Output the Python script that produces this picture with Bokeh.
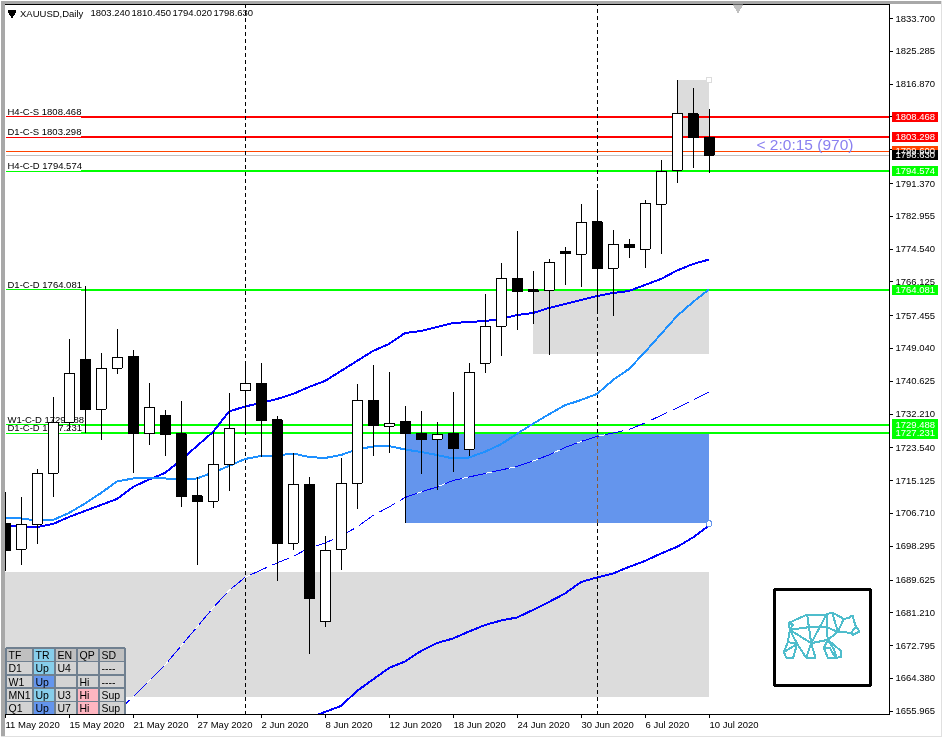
from bokeh.plotting import figure
from bokeh.embed import file_html
from bokeh.resources import INLINE
from bokeh.core.properties import value
from bokeh.models import (Range1d, FixedTicker, NumeralTickFormatter, ColumnDataSource, LinearAxis)

# ---------- data ----------
dates = ["11 May 2020", "15 May 2020", "21 May 2020", "27 May 2020", "2 Jun 2020", "8 Jun 2020",
         "12 Jun 2020", "18 Jun 2020", "24 Jun 2020", "30 Jun 2020", "6 Jul 2020", "10 Jul 2020"]
date_ticks = [0, 4, 8, 12, 16, 20, 24, 28, 32, 36, 40, 44]
price_ticks = [1833.700, 1825.285, 1816.870, 1808.455, 1800.040, 1791.370, 1782.955, 1774.540, 1766.125,
               1757.455, 1749.040, 1740.625, 1732.210, 1723.540, 1715.125, 1706.710, 1698.295,
               1689.625, 1681.210, 1672.795, 1664.380, 1655.965]

opens = [1704.18, 1697.51, 1703.92, 1717.01, 1730.10, 1746.26, 1733.43, 1743.95, 1747.11, 1727.17,
         1731.97, 1727.17, 1711.19, 1709.83, 1719.32, 1738.21, 1740.18, 1730.69, 1699.05, 1714.19,
         1678.93, 1697.51, 1714.45, 1735.74, 1729.07, 1730.43, 1727.35, 1725.74, 1727.35, 1723.15,
         1745.24, 1754.73, 1767.05, 1764.05, 1763.97, 1773.98, 1773.21, 1781.51, 1769.61, 1775.77,
         1774.49, 1786.04, 1794.76, 1809.21, 1803.24]
highs = [1712.29, 1710.85, 1718.14, 1736.59, 1751.47, 1765.07, 1747.80, 1753.96, 1748.65, 1740.10,
         1733.18, 1735.56, 1715.98, 1727.69, 1737.54, 1745.06, 1745.31, 1731.71, 1722.14, 1715.98,
         1700.92, 1720.86, 1739.93, 1744.80, 1742.93, 1734.28, 1733.00, 1730.10, 1737.87, 1745.24,
         1762.94, 1770.90, 1779.19, 1768.92, 1772.00, 1775.00, 1786.11, 1789.71, 1779.36, 1777.06,
         1787.14, 1797.40, 1817.93, 1815.88, 1810.45]
lows = [1692.02, 1693.48, 1698.87, 1711.01, 1728.12, 1727.43, 1725.56, 1742.49, 1717.17, 1724.27,
        1721.53, 1708.44, 1693.48, 1708.18, 1712.55, 1727.35, 1721.27, 1689.45, 1697.33, 1670.64,
        1677.65, 1692.20, 1707.93, 1721.45, 1722.30, 1704.18, 1716.83, 1712.73, 1717.42, 1721.45,
        1742.75, 1747.19, 1753.78, 1755.40, 1747.44, 1765.33, 1764.89, 1758.22, 1757.45, 1772.33,
        1769.77, 1773.36, 1791.58, 1795.43, 1794.02]
closes = [1697.15, 1703.92, 1717.01, 1730.10, 1742.67, 1733.33, 1743.95, 1746.78, 1727.17, 1733.95,
          1726.92, 1711.01, 1709.72, 1719.32, 1728.56, 1740.11, 1730.51, 1698.95, 1714.19, 1684.83,
          1697.25, 1714.45, 1735.74, 1729.23, 1729.84, 1727.17, 1725.63, 1727.02, 1723.33, 1742.93,
          1754.73, 1767.05, 1763.61, 1763.61, 1771.15, 1773.36, 1781.42, 1769.51, 1775.77, 1774.90,
          1786.29, 1794.50, 1809.39, 1803.13, 1798.63]

ma_fast = [1703.62, 1703.36, 1703.23, 1704.00, 1705.80, 1707.34, 1708.88, 1710.42, 1713.50, 1715.42,
           1717.09, 1720.42, 1724.02, 1727.61, 1732.87, 1734.15, 1735.05, 1736.08, 1737.36, 1739.16,
           1740.70, 1743.27, 1745.83, 1748.40, 1750.20, 1753.01, 1753.52, 1754.55, 1755.58, 1755.84,
           1756.09, 1756.61, 1757.63, 1758.15, 1759.43, 1760.45, 1761.48, 1762.51, 1763.27, 1763.79,
           1765.33, 1766.87, 1769.05, 1770.72, 1771.87]
ma_light = [1705.67, 1705.42, 1704.90, 1705.03, 1706.83, 1709.26, 1711.96, 1714.91, 1715.68, 1715.81,
            1715.68, 1715.55, 1715.68, 1717.22, 1718.89, 1720.68, 1721.45, 1721.58, 1722.10, 1721.20,
            1720.94, 1721.71, 1723.12, 1723.89, 1724.02, 1723.12, 1722.48, 1721.71, 1720.81, 1721.07,
            1722.53, 1724.46, 1727.15, 1729.72, 1732.16, 1734.47, 1735.82, 1737.36, 1740.95, 1743.77,
            1748.14, 1752.76, 1757.37, 1760.97, 1764.18]
ma_thin_bars = list(range(7, 45))
ma_thin = [1655.76, 1659.61, 1663.71, 1667.82, 1672.70, 1677.57, 1682.45, 1686.94, 1690.28, 1692.20,
           1694.00, 1695.66, 1697.84, 1699.12, 1700.92, 1703.23, 1706.18, 1708.36, 1710.80, 1712.21,
           1713.50, 1715.16, 1716.06, 1716.96, 1717.86, 1718.76, 1720.17, 1721.71, 1723.63, 1725.17,
           1726.46, 1727.35, 1728.25, 1729.92, 1731.85, 1733.77, 1735.82, 1737.87]
ma_slow_bars = list(range(19, 45))
ma_slow = [1654.22, 1655.76, 1657.30, 1661.15, 1664.10, 1667.05, 1668.72, 1671.41, 1673.46, 1674.62,
           1676.42, 1678.08, 1679.24, 1680.01, 1681.94, 1683.99, 1686.17, 1689.12, 1690.28, 1691.31,
           1692.98, 1694.52, 1696.44, 1698.11, 1700.55, 1703.63]

# horizontal levels
level_labels = ["H4-C-S 1808.468", "D1-C-S 1803.298", "H4-C-D 1794.574", "D1-C-D 1764.081",
                "W1-C-D 1729.488", "D1-C-D 1727.231"]
level_prices = [1808.468, 1803.298, 1794.574, 1764.081, 1729.488, 1727.231]
level_colors = ["#ff0000", "#ff0000", "#00ff00", "#00ff00", "#00ff00", "#00ff00"]
ask_price = 1799.600
bid_price = 1798.630

# zones: first bar, last bar, top price, bottom price
zone_first = [0, 25, 33, 42]
zone_last = [44, 44, 44, 44]
zone_top = [1691.76, 1727.23, 1764.08, 1817.93]
zone_bottom = [1659.68, 1704.26, 1747.62, 1803.30]
zone_colors = ["#dcdcdc", "#6495ed", "#dcdcdc", "#dcdcdc"]

vline_bars = [15, 37]

header = ["TF", "TR", "EN", "QP", "SD"]
table_rows = [["D1", "Up", "U4", "", "----"],
              ["W1", "Up", "", "Hi", "----"],
              ["MN1", "Up", "U3", "Hi", "Sup"],
              ["Q1", "Up", "U7", "Hi", "Sup"]]
table_fill = [["#c0c0c0", "#87ceeb", "#c0c0c0", "#c0c0c0", "#c0c0c0"],
              ["#d3d3d3", "#87ceeb", "#d3d3d3", "#d3d3d3", "#d3d3d3"],
              ["#d3d3d3", "#6495ed", "#d3d3d3", "#d3d3d3", "#d3d3d3"],
              ["#d3d3d3", "#87ceeb", "#d3d3d3", "#ffb6c1", "#d3d3d3"],
              ["#d3d3d3", "#6495ed", "#d3d3d3", "#ffb6c1", "#d3d3d3"]]

# ---------- layout helpers: canvas pixel -> data ----------
def X(px):
    return (px - 4.5) / 16.0
def Y(py):
    return 1838.335 - 0.25661 * py

FONT = "Liberation Sans"
SIZE = "9.5px"
PAGE = {"position": "fixed", "left": "0px", "top": "0px", "shape-rendering": "crispEdges"}

p = figure(width=942, height=737, output_backend="svg", toolbar_location=None,
           x_range=Range1d(X(4), X(889)), y_range=Range1d(Y(714), Y(4)),
           x_axis_location=None, y_axis_location=None,
           min_border_left=4, min_border_right=53, min_border_top=4, min_border_bottom=23,
           background_fill_color="white", border_fill_color="white",
           outline_line_color="black", outline_line_width=1)
p.styles = PAGE
p.grid.visible = False

yaxis = LinearAxis(ticker=FixedTicker(ticks=price_ticks), formatter=NumeralTickFormatter(format="0.000"),
                   major_tick_in=0, major_tick_out=3, minor_tick_line_color=None,
                   major_label_standoff=3, major_label_text_font=FONT, major_label_text_font_size=SIZE,
                   major_label_text_color="black", axis_line_color="black")
p.add_layout(yaxis, "right")
xaxis = LinearAxis(ticker=FixedTicker(ticks=date_ticks),
                   major_label_overrides={i: "" for i in date_ticks},
                   major_tick_in=0, major_tick_out=3, minor_tick_line_color=None,
                   axis_line_color="black", major_label_text_font_size="1px")
p.add_layout(xaxis, "below")

# zones
for a, b, t, bt, c in zip(zone_first, zone_last, zone_top, zone_bottom, zone_colors):
    p.quad(left=a, right=b, top=t, bottom=bt, fill_color=c, line_color=None)

# level captions (behind candles)
p.text(x=[X(7)] * len(level_prices), y=level_prices, text=level_labels, text_font=value(FONT),
       text_font_size=SIZE, text_color="black", text_baseline="middle", y_offset=-5.5)

# levels: thin under the caption, thick afterwards
LABEL_END = X(80.5)
RIGHT = X(889)
p.segment(x0=[X(5)] * 6, x1=[LABEL_END] * 6, y0=level_prices, y1=level_prices, line_color=level_colors, line_width=1)
p.segment(x0=[LABEL_END] * 6, x1=[RIGHT] * 6, y0=level_prices, y1=level_prices, line_color=level_colors, line_width=2)
p.segment(x0=[X(5)], x1=[RIGHT], y0=[ask_price], y1=[ask_price], line_color="#ff4500", line_width=1)
p.segment(x0=[X(5)], x1=[RIGHT], y0=[bid_price], y1=[bid_price], line_color="#c0c0c0", line_width=1)

# vertical session separators
for b in vline_bars:
    if b == 37:
        p.segment(x0=[b], x1=[b], y0=[Y(714)], y1=[zone_bottom[1]], line_color="black", line_dash="4 3", line_width=1)
        p.segment(x0=[b], x1=[b], y0=[zone_bottom[1]], y1=[zone_top[1]], line_color="#8a5a30", line_dash="4 3", line_width=1)
        p.segment(x0=[b], x1=[b], y0=[zone_top[1]], y1=[Y(4)], line_color="black", line_dash="4 3", line_width=1)
    else:
        p.segment(x0=[b], x1=[b], y0=[Y(714)], y1=[Y(4)], line_color="black", line_dash="4 3", line_width=1)

# moving averages
bars = list(range(45))
p.line(bars, ma_fast, line_color="#0000ff", line_width=2)
p.line(bars, ma_light, line_color="#1e90ff", line_width=2)
p.line(ma_slow_bars, ma_slow, line_color="#0000ff", line_width=2)
p.line(ma_thin_bars, ma_thin, line_color="white", line_width=1)
p.line(ma_thin_bars, ma_thin, line_color="#0000ff", line_width=1, line_dash="18 6")

# candles
up = [c >= o for o, c in zip(opens, closes)]
src = ColumnDataSource(dict(x=bars, o=opens, h=highs, l=lows, c=closes,
                            top=[max(a, b) for a, b in zip(opens, closes)],
                            bottom=[min(a, b) for a, b in zip(opens, closes)],
                            fill=["white" if u else "black" for u in up]))
p.segment(x0="x", x1="x", y0="l", y1="h", source=src, line_color="black", line_width=1)
p.vbar(x="x", width=10 / 16, top="top", bottom="bottom", source=src, fill_color="fill", line_color="black", line_width=1)

# zone anchors
p.scatter([zone_last[3]], [zone_top[3]], marker="circle", size=6, fill_color="white", line_color="#dcdcdc", line_width=1)
p.scatter([zone_last[1]], [zone_bottom[1] - 0.2], marker="circle", size=6, fill_color="white", line_color="#6495ed", line_width=1)

# header
p.scatter([X(11.5)], [Y(12.8)], marker="inverted_triangle", size=8, fill_color="black", line_color="black")
p.scatter([X(737.5)], [Y(7)], marker="inverted_triangle", size=9, fill_color="#c0c0c0", line_color="#c0c0c0")
p.text([X(19.5)], [Y(12.7)], text=["XAUUSD,Daily"], text_font=value(FONT), text_font_size=SIZE, text_baseline="middle")
p.text([X(90), X(131), X(172), X(213)], [Y(12.7)] * 4,
       text=[f"{opens[-1]:.3f}", f"{highs[-1]:.3f}", f"{lows[-1]:.3f}", f"{closes[-1]:.3f}"],
       text_font=value(FONT), text_font_size=SIZE, text_baseline="middle")
p.text([X(756)], [Y(143.5)], text=["< 2:0:15 (970)"], text_font=value("Liberation Sans"), text_font_size="15.5px",
       text_color="#8a80f0", text_baseline="middle")

# status table
col_px = [5.5, 32.5, 54.5, 76.5, 98.5, 124.5]
row_px = [647.5, 660.9, 674.3, 687.7, 701.1, 714.5]
q = dict(left=[], right=[], top=[], bottom=[], fill=[])
tx = dict(x=[], y=[], t=[])
for r, cells in enumerate([header] + table_rows):
    for c, cell in enumerate(cells):
        q["left"].append(X(col_px[c])); q["right"].append(X(col_px[c + 1]))
        q["top"].append(Y(row_px[r])); q["bottom"].append(Y(row_px[r + 1]))
        q["fill"].append(table_fill[r][c])
        if cell:
            tx["x"].append(X(col_px[c] + 2.5)); tx["y"].append(Y(row_px[r + 1] - 6.7)); tx["t"].append(cell)
p.quad(left="left", right="right", top="top", bottom="bottom", fill_color="fill", line_color="#708090",
       line_width=1.5, source=ColumnDataSource(q))
p.text("x", "y", text="t", source=ColumnDataSource(tx), text_font=value(FONT), text_font_size="10.5px",
       text_baseline="middle", text_color="black")

# logo
p.quad(left=[X(774)], right=[X(870)], top=[Y(589)], bottom=[Y(685)], fill_color="white", line_color="black", line_width=3)
bear = [[(145,157),(200,132),(258,132),(275,126),(310,145),(325,143),(336,134),(340,150),(346,168),(357,183),(336,194),(332,187),(292,184)],
        [(346,168),(332,187)], [(310,145),(292,184),(275,126)], [(258,132),(258,170),(292,184)],
        [(258,170),(262,208),(292,184)], [(200,132),(205,170),(148,178),(145,157),(158,162),(148,178)],
        [(200,132),(212,218),(258,132)], [(205,170),(258,170)], [(148,178),(212,218),(262,208)],
        [(148,178),(142,215),(170,220),(148,178)], [(142,215),(130,245),(138,262),(158,262),(170,220),(130,245)],
        [(170,220),(197,262),(225,262),(212,218),(197,262)],
        [(262,208),(300,240),(303,258),(288,262),(280,235),(262,208)],
        [(262,208),(250,232),(262,262),(285,262),(268,232),(250,232)]]
p.multi_line([[X(740 + a / 3) for a, _ in s] for s in bear], [[Y(570 + b / 3) for _, b in s] for s in bear],
             line_color="#4fbdcc", line_width=2)

# ---------- transparent overlay spanning the whole window: gutter texts and window edges ----------
o = figure(width=942, height=737, output_backend="svg", toolbar_location=None,
           x_range=Range1d(X(0), X(942)), y_range=Range1d(Y(737), Y(0)),
           x_axis_location=None, y_axis_location=None,
           min_border_left=0, min_border_right=0, min_border_top=0, min_border_bottom=0,
           background_fill_alpha=0, border_fill_alpha=0, outline_line_color=None)
o.styles = dict(PAGE, **{"pointer-events": "none"})
o.grid.visible = False

tag_prices = [ask_price] + level_prices + [bid_price]
tag_colors = ["#ff4500"] + level_colors + ["black"]
H = 5.2 * 0.25661
o.quad(left=[X(891)] * 8, right=[X(937)] * 8, top=[v + H for v in tag_prices], bottom=[v - H for v in tag_prices],
       fill_color=tag_colors, line_color=None)
o.text(x=[X(895)] * 8, y=tag_prices, text=[f"{v:.3f}" for v in tag_prices], text_color="white",
       text_font=value(FONT), text_font_size=SIZE, text_baseline="middle")
o.text(x=[X(5 + 16 * t) for t in date_ticks], y=[Y(723.5)] * len(dates), text=dates, text_color="black",
       text_font=value(FONT), text_font_size=SIZE, text_baseline="middle")

o.quad(left=[X(0)], right=[X(4)], top=[Y(0)], bottom=[Y(737)], fill_color="#a8a8a8", line_color=None)
o.quad(left=[X(0)], right=[X(942)], top=[Y(0)], bottom=[Y(3)], fill_color="#a8a8a8", line_color=None)
o.quad(left=[X(940)], right=[X(942)], top=[Y(0)], bottom=[Y(737)], fill_color="#e0e0e0", line_color=None)
o.quad(left=[X(0)], right=[X(942)], top=[Y(735)], bottom=[Y(737)], fill_color="#e0e0e0", line_color=None)

open("out.html", "w").write(file_html([p, o], INLINE))
